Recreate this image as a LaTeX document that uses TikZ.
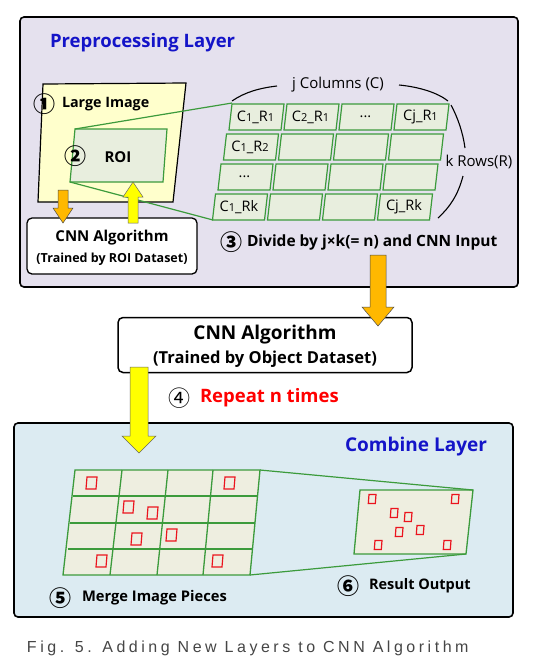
\documentclass[tikz,border=0pt]{standalone}
\usepackage{fontspec}
\setmainfont{Open Sans}
\newfontfamily\circfont{Noto Sans CJK KR}
\newfontfamily\capfont[LetterSpace=22]{Liberation Sans}
\usetikzlibrary{arrows.meta}
\definecolor{prefill}{RGB}{229,225,238}
\definecolor{combfill}{RGB}{220,235,242}
\definecolor{imgyellow}{RGB}{255,255,204}
\definecolor{cellfill}{RGB}{232,238,222}
\definecolor{gridfill}{RGB}{238,238,224}
\definecolor{gline}{RGB}{60,155,60}
\definecolor{titleblue}{RGB}{20,20,200}
\definecolor{arrorange}{RGB}{255,184,0}
\definecolor{arryellow}{RGB}{255,255,0}
\definecolor{redbox}{RGB}{235,20,30}
\definecolor{capgray}{RGB}{70,70,70}
\newcommand\BlockArrow[7]{%
  \draw[#7] ({#1-#5},#2) -- ({#1+#5},#2) -- ({#1+#5},#3) -- ({#1+#6},#3) -- (#1,#4) -- ({#1-#6},#3) -- ({#1-#5},#3) -- cycle;}
\newcommand\fs[1]{\fontsize{#1}{#1}\selectfont}
\begin{document}
\begin{tikzpicture}[x=1pt,y=-1pt,
  frame/.style={draw=black,line width=1.6pt,rounded corners=4pt,inner sep=0pt,outer sep=0pt},
  cnnbox/.style={draw=black,line width=1.3pt,fill=white,rounded corners=5pt,inner sep=0pt,outer sep=0pt},
  gcell/.style={draw=gline,line width=1.2pt,fill=cellfill},
  glink/.style={draw=gline,line width=1.2pt},
  brace/.style={draw=black,line width=1.1pt},
  rsq/.style={draw=redbox,line width=1.2pt},
  txt/.style={inner sep=0pt,outer sep=0pt},
  num/.style={inner sep=0pt,font=\circfont\bfseries\fs{22}},
  celltxt/.style={inner sep=0pt,font=\fs{14.5}}]
\useasboundingbox (0,0) rectangle (536,657);
\fill[white] (0,0) rectangle (536,657);

% ---------- Preprocessing layer ----------
\node[frame,fill=prefill,minimum width=498pt,minimum height=270pt] (pre) at (269,152) {};
\node[txt,anchor=west,text=titleblue,font=\bfseries\fs{18.5}] (pretitle) at (50,43) {Preprocessing Layer};

% large image
\draw[fill=imgyellow,draw=black,line width=1.2pt] (43,84) -- (186,83) -- (173,202) -- (38,202) -- cycle;
\coordinate (roiTL) at (75,129);
\coordinate (roiBL) at (70,182);
\draw[gcell] (roiTL) -- (167,129) -- (163,182) -- (roiBL) -- cycle;
\node[num] (n1) at (44,104) {①};
\node[txt,anchor=west,font=\bfseries\fs{14.3}] (large) at (62,104) {Large Image};
\node[num] (n2) at (75,156) {②};
\node[txt,font=\bfseries\fs{15}] (roi) at (118,157) {ROI};

% grid of pieces
\foreach \r in {0,1,2,3}{
  \foreach \c in {0,1,2,3}{
    \pgfmathsetmacro\xx{232-5.5*\r+55*\c}
    \pgfmathsetmacro\yy{104+30*\r}
    \draw[gcell] (\xx,\yy) -- ({\xx+52},\yy) -- ({\xx+49},{\yy+26}) -- ({\xx-3},{\yy+26}) -- cycle;
    \coordinate (cell-\r-\c) at ({\xx+23.5},{\yy+13});
  }
}
\coordinate (gridTL) at (232,103);
\coordinate (gridBL) at (213,220);
\node[celltxt] (t00) at (cell-0-0) {C{\fs{11}1}\_R{\fs{11}1}};
\node[celltxt] (t01) at (cell-0-1) {C{\fs{11}2}\_R{\fs{11}1}};
\node[celltxt] (t02) at (cell-0-2) {...};
\node[celltxt] (t03) at (cell-0-3) {Cj\_R{\fs{11}1}};
\node[celltxt] (t10) at (cell-1-0) {C{\fs{11}1}\_R{\fs{11}2}};
\node[celltxt] (t20) at (cell-2-0) {...};
\node[celltxt] (t30) at (cell-3-0) {C{\fs{11}1}\_Rk};
\node[celltxt] (t33) at (cell-3-3) {Cj\_Rk};

\draw[glink] (roiTL) -- (gridTL);
\draw[glink] (roiBL) -- (gridBL);

% braces
\node[txt,font=\fs{15}] (jcol) at (338,85) {j Columns (C)};
\node[txt,font=\fs{15}] (krow) at (479,162) {k Rows(R)};
\draw[brace] (232,101) .. controls (245,92) and (260,88) .. (277,86);
\draw[brace] (399,85) .. controls (420,87) and (438,93) .. (448,101);
\draw[brace] (451,105) .. controls (458,118) and (463,133) .. (465,148);
\draw[brace] (463,176) .. controls (458,195) and (450,207) .. (438,218);

\node[num] (n3) at (231,242) {③};
\node[txt,anchor=west,font=\bfseries\fs{15.5}] (divide) at (247,242) {Divide by j×k(= n) and CNN Input};

% small CNN box
\node[cnnbox,minimum width=170pt,minimum height=56pt] (cnn1) at (112,246) {};
\node[txt,font=\bfseries\fs{15}] (cnn1a) at (112,238) {CNN Algorithm};
\node[txt,font=\bfseries\fs{12.5}] (cnn1b) at (112,259) {(Trained by ROI Dataset)};
\BlockArrow{63}{190}{208}{223}{5}{10}{fill=arrorange,draw=black!70,line width=0.5pt}
\BlockArrow{133}{223}{197}{182}{5}{10}{fill=arryellow,draw=black!60,line width=0.5pt}

% ---------- middle ----------
\node[cnnbox,line width=1.5pt,minimum width=294pt,minimum height=55pt] (cnn2) at (265,345) {};
\node[txt,font=\bfseries\fs{19}] (cnn2a) at (265,335) {CNN Algorithm};
\node[txt,font=\bfseries\fs{16.5}] (cnn2b) at (265,359) {(Trained by Object Dataset)};
\BlockArrow{378}{255}{307}{326}{8}{16}{fill=arrorange,draw=black!70,line width=0.5pt}

\node[num,font=\circfont\fs{22}] (n4) at (179,398) {④};
\node[txt,anchor=west,text=red,font=\bfseries\fs{18.5}] (repeat) at (200,398) {Repeat n times};

% ---------- Combine layer ----------
\node[frame,fill=combfill,minimum width=499pt,minimum height=194pt] (comb) at (263.5,520) {};
\node[txt,text=titleblue,font=\bfseries\fs{19}] (combtitle) at (416,447) {Combine Layer};
\BlockArrow{139}{367}{436}{453}{9}{17}{fill=arryellow,draw=black!60,line width=0.5pt}

% merged grid
\coordinate (bigTR) at (260,470);
\coordinate (bigBR) at (250,575);
\draw[gline,line width=1.3pt,fill=gridfill] (75,470) -- (bigTR) -- (bigBR) -- (63,575) -- cycle;
\draw[gline,line width=1.3pt] (72.7,496) -- (257.5,496);
\draw[gline,line width=1.3pt] (70.1,523) -- (255,523);
\draw[gline,line width=1.3pt] (67.5,549) -- (252.5,549);
\draw[gline,line width=1.3pt] (122,470) -- (110,575);
\draw[gline,line width=1.3pt] (168,470) -- (157,575);
\draw[gline,line width=1.3pt] (213,470) -- (203,575);
\foreach \x/\y in {91/483,229/483,128/507,152/513,136/539,171/535,101/561,217/561}{
  \draw[rsq] ({\x-4},{\y-6}) -- ({\x+6},{\y-6}) -- ({\x+5},{\y+6}) -- ({\x-5},{\y+6}) -- cycle;
}
% result
\coordinate (smTR) at (473,490);
\coordinate (smBR) at (466,554);
\draw[gline,line width=1.3pt,fill=gridfill] (360,490) -- (smTR) -- (smBR) -- (354,554) -- cycle;
\draw[glink] (bigTR) -- (smTR);
\draw[glink] (bigBR) -- (smBR);
\foreach \x/\y in {372/499,455/499,394/513,408/517,420/530,399/532,378/545,447/545}{
  \draw[rsq] ({\x-3},{\y-4.5}) -- ({\x+4},{\y-4.5}) -- ({\x+3.3},{\y+4.5}) -- ({\x-3.7},{\y+4.5}) -- cycle;
}
\node[num] (n5) at (60,598) {⑤};
\node[txt,anchor=west,font=\bfseries\fs{14.7}] (merge) at (82,598) {Merge Image Pieces};
\node[num] (n6) at (348,586) {⑥};
\node[txt,anchor=west,font=\bfseries\fs{14.5}] (result) at (369,586) {Result Output};

% caption
\node[txt,anchor=west,text=capgray,font=\capfont\fs{16}] (caption) at (27,648) {Fig. 5. Adding New Layers to CNN Algorithm};
\end{tikzpicture}
\end{document}
